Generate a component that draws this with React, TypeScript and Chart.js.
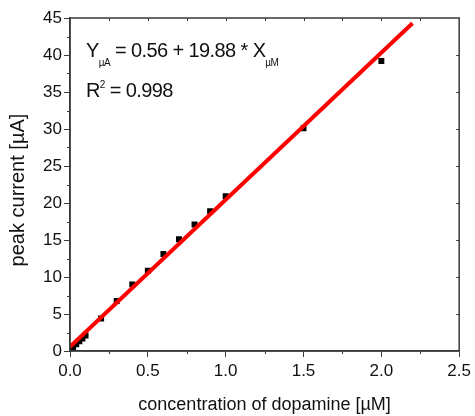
import React, { useEffect, useRef } from "react";
import { Chart, registerables } from "chart.js";

Chart.register(...registerables);

const concentrations = [0.01, 0.02, 0.04, 0.06, 0.08, 0.1, 0.2, 0.3, 0.4, 0.5, 0.6, 0.7, 0.8, 0.9, 1.0, 1.5, 2.0];
const currents = [0.2, 0.5, 0.9, 1.3, 1.7, 2.1, 4.4, 6.75, 9.0, 10.85, 13.1, 15.1, 17.1, 18.9, 20.9, 30.1, 39.2];
const fitIntercept = 0.56;
const fitSlope = 19.88;
const fitRange = [0, 2.2];
const xTicks = [0, 0.5, 1.0, 1.5, 2.0, 2.5];
const yTicks = [0, 5, 10, 15, 20, 25, 30, 35, 40, 45];

const FONT = "'Liberation Sans', Arial, Helvetica, sans-serif";
const AXIS = "#3a3a3a";

const framePlugin = {
  id: "frame",
  afterDraw(chart: any) {
    const { ctx, chartArea: a, scales } = chart;
    const xs = scales.x;
    const ys = scales.y;
    ctx.save();
    ctx.strokeStyle = AXIS;
    ctx.lineWidth = 1.5;
    ctx.strokeRect(a.left, a.top, a.right - a.left, a.bottom - a.top);
    ctx.lineWidth = 1;
    ctx.beginPath();
    for (let v = 0.25; v < 2.5; v += 0.5) {
      const px = Math.round(xs.getPixelForValue(v)) + 0.5;
      ctx.moveTo(px, a.bottom);
      ctx.lineTo(px, a.bottom + 3);
    }
    for (let v = 0.25; v < 2.5; v += 0.25) {
      const px = Math.round(xs.getPixelForValue(v)) + 0.5;
      ctx.moveTo(px, a.top);
      ctx.lineTo(px, a.top + 3);
    }
    for (let v = 2.5; v < 45; v += 5) {
      const py = Math.round(ys.getPixelForValue(v)) + 0.5;
      ctx.moveTo(a.left, py);
      ctx.lineTo(a.left - 3, py);
    }
    for (let v = 5; v < 45; v += 5) {
      const py = Math.round(ys.getPixelForValue(v)) + 0.5;
      ctx.moveTo(a.right, py);
      ctx.lineTo(a.right - 3, py);
    }
    ctx.stroke();

    ctx.fillStyle = "#111";
    ctx.textBaseline = "alphabetic";
    ctx.textAlign = "left";
    (ctx as any).letterSpacing = "-0.6px";
    const big = `20px ${FONT}`;
    const small = `10px ${FONT}`;
    const pieces: [string, string, number][] = [
      ["Y", big, 0],
      ["\u00b5A", small, 9],
      [" = 0.56 + 19.88 * X", big, 0],
      ["\u00b5M", small, 9],
    ];
    let x = a.left + 16;
    const y1 = a.top + 39;
    for (const [t, f, dy] of pieces) {
      ctx.font = f;
      ctx.fillText(t, x, y1 + dy);
      x += ctx.measureText(t).width;
    }
    x = a.left + 16;
    const y2 = a.top + 79;
    const pieces2: [string, string, number][] = [
      ["R", big, 0],
      ["2", small, -9],
      [" = 0.998", big, 0],
    ];
    for (const [t, f, dy] of pieces2) {
      ctx.font = f;
      ctx.fillText(t, x, y2 + dy);
      x += ctx.measureText(t).width;
    }
    ctx.restore();
  },
};

export default function App() {
  const ref = useRef<HTMLCanvasElement>(null);
  useEffect(() => {
    if (!ref.current) return;
    const points = concentrations.map((c, i) => ({ x: c, y: currents[i] }));
    const fit = fitRange.map((c) => ({ x: c, y: fitIntercept + fitSlope * c }));
    const chart = new Chart(ref.current, {
      type: "scatter",
      data: {
        datasets: [
          {
            type: "line",
            data: fit,
            borderColor: "#ff0000",
            borderWidth: 4,
            pointRadius: 0,
            order: 0,
          } as any,
          {
            data: points,
            pointStyle: "rect",
            pointRadius: 4.2,
            backgroundColor: "#000",
            borderColor: "#000",
            borderWidth: 0,
            order: 1,
          },
        ],
      },
      options: {
        animation: false,
        responsive: false,
        layout: { padding: { left: 0, right: 14, top: 18, bottom: 0 } },
        plugins: { legend: { display: false }, tooltip: { enabled: false } },
        scales: {
          x: {
            type: "linear",
            min: 0,
            max: 2.5,
            afterBuildTicks: (s: any) => {
              s.ticks = xTicks.map((v) => ({ value: v }));
            },
            afterFit: (s: any) => {
              s.height = 65;
            },
            ticks: {
              callback: (v: any) => Number(v).toFixed(1),
              font: { family: FONT, size: 17 },
              color: "#111",
              padding: 4,
              maxRotation: 0,
              autoSkip: false,
            },
            grid: { drawOnChartArea: false, drawTicks: true, tickLength: 6, color: AXIS, tickColor: AXIS },
            border: { color: AXIS, width: 1.5 },
            title: {
              display: true,
              text: "concentration of dopamine [\u00b5M]",
              font: { family: FONT, size: 18 },
              color: "#111",
              padding: { top: 0, bottom: 0 },
            },
          },
          y: {
            type: "linear",
            min: 0,
            max: 45,
            afterBuildTicks: (s: any) => {
              s.ticks = yTicks.map((v) => ({ value: v }));
            },
            afterFit: (s: any) => {
              s.width = 70;
            },
            ticks: {
              font: { family: FONT, size: 17 },
              color: "#111",
              padding: 2,
              autoSkip: false,
            },
            grid: { drawOnChartArea: false, drawTicks: true, tickLength: 6, color: AXIS, tickColor: AXIS },
            border: { color: AXIS, width: 1.5 },
            title: {
              display: true,
              text: "peak current [\u00b5A]  ",
              font: { family: FONT, size: 20 },
              color: "#111",
              padding: { top: 6, bottom: 0 },
            },
          },
        },
      },
      plugins: [framePlugin],
    });
    return () => chart.destroy();
  }, []);
  return (
    <div style={{ position: "absolute", left: 0, top: 0, width: 475, height: 416, background: "#fff" }}>
      <canvas ref={ref} width={475} height={416} />
    </div>
  );
}
